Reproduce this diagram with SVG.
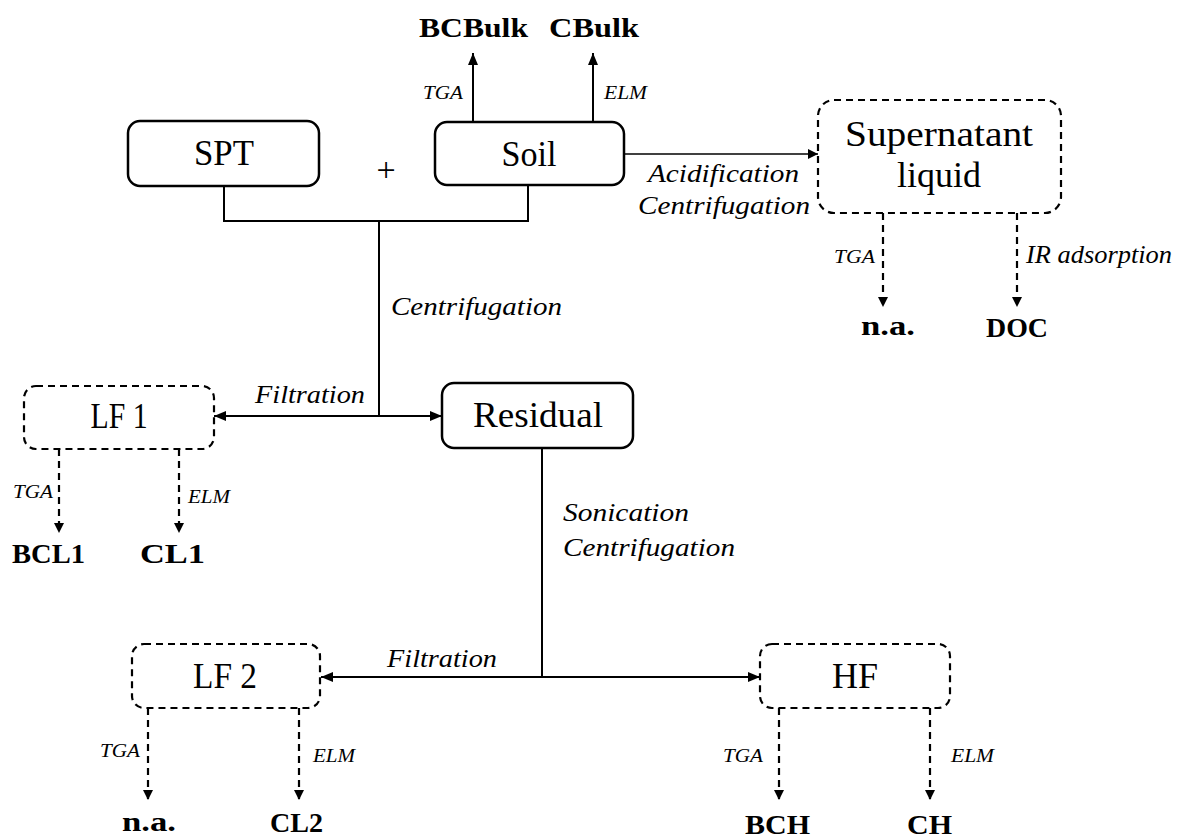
<svg xmlns="http://www.w3.org/2000/svg" width="1196" height="839" viewBox="0 0 1196 839">
<defs>
<style>
.box{fill:#fff;stroke:#000;stroke-width:2.5}
.dbox{fill:#fff;stroke:#000;stroke-width:2.2;stroke-dasharray:7 5}
.ln{fill:none;stroke:#000;stroke-width:2}
.thin{fill:none;stroke:#000;stroke-width:1.3}
.dl{fill:none;stroke:#000;stroke-width:2.2;stroke-dasharray:7 5}
.bt{font-family:"Liberation Serif",serif;font-size:36px;text-anchor:middle;fill:#000}
.it{font-family:"Liberation Serif",serif;font-style:italic;font-size:25px;fill:#000}
.sm{font-family:"Liberation Serif",serif;font-style:italic;font-size:19px;fill:#000}
.bd{font-family:"Liberation Serif",serif;font-weight:bold;font-size:28px;fill:#000}
</style>
<marker id="ah" viewBox="0 0 12 10" refX="12" refY="5" markerWidth="12" markerHeight="10" markerUnits="userSpaceOnUse" orient="auto-start-reverse"><path d="M0,0 L12,5 L0,10 z" fill="#000"/></marker>
<marker id="ahs" viewBox="0 0 10 10" refX="10" refY="5" markerWidth="10" markerHeight="10" markerUnits="userSpaceOnUse" orient="auto"><path d="M0,0 L10,5 L0,10 z" fill="#000"/></marker>
</defs>
<rect width="1196" height="839" fill="#fff"/>

<g id="connectors">
<path class="ln" d="M224,186 V221 H528 V185"/>
<path class="ln" d="M379,221 V416"/>
<path class="ln" d="M214,416 H442" marker-start="url(#ah)" marker-end="url(#ah)"/>
<path class="ln" d="M473,122 V53" marker-end="url(#ah)"/>
<path class="ln" d="M593,122 V53" marker-end="url(#ah)"/>
<path class="thin" d="M624,154 H818" marker-end="url(#ahs)"/>
<path class="dl" d="M883,213 V307" marker-end="url(#ahs)"/>
<path class="dl" d="M1017,213 V307" marker-end="url(#ahs)"/>
<path class="dl" d="M59,449 V533" marker-end="url(#ahs)"/>
<path class="dl" d="M179,449 V533" marker-end="url(#ahs)"/>
<path class="ln" d="M542,448 V677"/>
<path class="ln" d="M321,677 H760" marker-start="url(#ah)" marker-end="url(#ah)"/>
<path class="dl" d="M148,708 V800" marker-end="url(#ahs)"/>
<path class="dl" d="M299,708 V800" marker-end="url(#ahs)"/>
<path class="dl" d="M779,708 V800" marker-end="url(#ahs)"/>
<path class="dl" d="M930,708 V800" marker-end="url(#ahs)"/>
</g>

<g id="edge-labels">
<text class="sm" x="423" y="99" textLength="40" lengthAdjust="spacingAndGlyphs">TGA</text>
<text class="sm" x="604" y="99" textLength="43" lengthAdjust="spacingAndGlyphs">ELM</text>
<text class="bt" x="386" y="181" style="font-size:34px">+</text>
<text class="it" x="648" y="182" textLength="151" lengthAdjust="spacingAndGlyphs">Acidification</text>
<text class="it" x="638" y="214" textLength="172" lengthAdjust="spacingAndGlyphs">Centrifugation</text>
<text class="sm" x="834" y="263" textLength="41" lengthAdjust="spacingAndGlyphs">TGA</text>
<text class="it" x="1026" y="263" textLength="146" lengthAdjust="spacingAndGlyphs">IR adsorption</text>
<text class="it" x="391" y="315" textLength="171" lengthAdjust="spacingAndGlyphs">Centrifugation</text>
<text class="it" x="255" y="403" textLength="110" lengthAdjust="spacingAndGlyphs">Filtration</text>
<text class="sm" x="13" y="498" textLength="40" lengthAdjust="spacingAndGlyphs">TGA</text>
<text class="sm" x="188" y="503" textLength="42" lengthAdjust="spacingAndGlyphs">ELM</text>
<text class="it" x="563" y="521" textLength="126" lengthAdjust="spacingAndGlyphs">Sonication</text>
<text class="it" x="563" y="556" textLength="172" lengthAdjust="spacingAndGlyphs">Centrifugation</text>
<text class="it" x="387" y="667" textLength="110" lengthAdjust="spacingAndGlyphs">Filtration</text>
<text class="sm" x="100" y="757" textLength="40" lengthAdjust="spacingAndGlyphs">TGA</text>
<text class="sm" x="313" y="762" textLength="42" lengthAdjust="spacingAndGlyphs">ELM</text>
<text class="sm" x="723" y="762" textLength="40" lengthAdjust="spacingAndGlyphs">TGA</text>
<text class="sm" x="951" y="762" textLength="43" lengthAdjust="spacingAndGlyphs">ELM</text>
</g>

<g id="outputs">
<text class="bd" x="419" y="37" textLength="109" lengthAdjust="spacingAndGlyphs">BCBulk</text>
<text class="bd" x="549" y="37" textLength="90" lengthAdjust="spacingAndGlyphs">CBulk</text>
<text class="bd" x="861" y="335" textLength="54" lengthAdjust="spacingAndGlyphs">n.a.</text>
<text class="bd" x="986" y="337" textLength="62" lengthAdjust="spacingAndGlyphs">DOC</text>
<text class="bd" x="12" y="563" textLength="73" lengthAdjust="spacingAndGlyphs">BCL1</text>
<text class="bd" x="140" y="563" textLength="65" lengthAdjust="spacingAndGlyphs">CL1</text>
<text class="bd" x="122" y="831" textLength="54" lengthAdjust="spacingAndGlyphs">n.a.</text>
<text class="bd" x="270" y="832" textLength="53" lengthAdjust="spacingAndGlyphs">CL2</text>
<text class="bd" x="745" y="834" textLength="65" lengthAdjust="spacingAndGlyphs">BCH</text>
<text class="bd" x="907" y="834" textLength="45" lengthAdjust="spacingAndGlyphs">CH</text>
</g>

<g id="node-spt">
<rect class="box" x="128" y="121" width="191" height="65" rx="12"/>
<text class="bt" x="224" y="165" textLength="60" lengthAdjust="spacingAndGlyphs">SPT</text>
</g>
<g id="node-soil">
<rect class="box" x="435" y="122" width="189" height="63" rx="12"/>
<text class="bt" x="529" y="166" textLength="55" lengthAdjust="spacingAndGlyphs">Soil</text>
</g>
<g id="node-supernatant">
<rect class="dbox" x="818" y="100" width="243" height="113" rx="16"/>
<text class="bt" x="939" y="146" textLength="188" lengthAdjust="spacingAndGlyphs">Supernatant</text>
<text class="bt" x="939" y="187">liquid</text>
</g>
<g id="node-lf1">
<rect class="dbox" x="24" y="386" width="190" height="63" rx="12"/>
<text class="bt" x="119" y="428" textLength="57" lengthAdjust="spacingAndGlyphs">LF 1</text>
</g>
<g id="node-residual">
<rect class="box" x="442" y="383" width="191" height="65" rx="12"/>
<text class="bt" x="538" y="427" textLength="130" lengthAdjust="spacingAndGlyphs">Residual</text>
</g>
<g id="node-lf2">
<rect class="dbox" x="132" y="644" width="188" height="64" rx="12"/>
<text class="bt" x="225" y="688" textLength="64" lengthAdjust="spacingAndGlyphs">LF 2</text>
</g>
<g id="node-hf">
<rect class="dbox" x="760" y="644" width="190" height="64" rx="12"/>
<text class="bt" x="855" y="688" textLength="46" lengthAdjust="spacingAndGlyphs">HF</text>
</g>
</svg>
